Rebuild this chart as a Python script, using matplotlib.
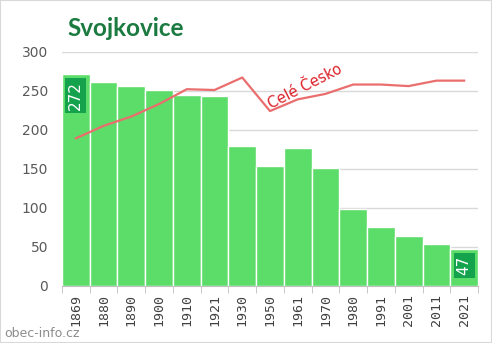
import matplotlib.pyplot as plt
from matplotlib.patches import Rectangle
import numpy as np

years = ['1869', '1880', '1890', '1900', '1910', '1921', '1930', '1950',
         '1961', '1970', '1980', '1991', '2001', '2011', '2021']
population = [272, 261, 256, 251, 245, 243, 179, 154, 177, 151, 98, 75, 64, 54, 47]
# whole-country trend, rescaled to the village axis
czechia = [189, 205, 217, 233, 252, 251, 267, 224, 239, 246, 258, 258, 256, 263, 263]

BAR = '#5cdc69'
BOX = '#14a34c'
LINE = '#ea6e6e'

fig = plt.figure(figsize=(4.92, 3.43), dpi=100)
ax = fig.add_axes([0.126, 0.167, 0.8455, 0.682])

x = np.arange(len(years))
ax.bar(x, population, width=1.0, color=BAR, edgecolor='white', linewidth=1, zorder=2)
ax.plot(x, czechia, color=LINE, linewidth=1.6, zorder=3)

# boxed value labels on first and last bar
for i in (0, len(years) - 1):
    ax.text(x[i], population[i] - 9, str(population[i]), rotation=90, ha='center', va='top',
            color='white', fontsize=11, zorder=4,
            bbox=dict(boxstyle='square,pad=0.2', facecolor=BOX, edgecolor='none'))

ax.text(8.25, 255, 'Celé Česko', rotation=27, ha='center', va='center',
        color='#dc2229', fontsize=10.5, zorder=4)

ax.set_xlim(-0.5, len(years) - 0.5)
ax.set_ylim(0, 300)
ax.set_yticks(range(0, 301, 50))
ax.yaxis.grid(True, color='#d9d9d9', linewidth=1)
ax.set_axisbelow(True)
ax.tick_params(axis='y', length=0, labelsize=10, labelcolor='#595959', pad=10)

ax.set_xticks(x)
ax.set_xticklabels(years, rotation=90, family='DejaVu Sans Mono', fontsize=9.5, color='#404040')
ax.set_xticks(np.arange(-0.5, len(years), 1.0), minor=True)
ax.tick_params(axis='x', which='major', length=0, pad=6)
ax.tick_params(axis='x', which='minor', length=5, color='#bfbfbf')

for side in ('top', 'right', 'left'):
    ax.spines[side].set_visible(False)
ax.spines['bottom'].set_color('#bfbfbf')

fig.text(0.137, 0.918, 'Svojkovice', fontsize=17.5, fontweight='bold', color='#1b7a3f',
         family='Lato', va='center')
fig.text(0.008, 0.028, 'obec-info.cz', fontsize=9, color='#8c8c8c', va='center')
fig.patches.append(Rectangle((0, 0), 1, 1, transform=fig.transFigure, fill=False,
                             edgecolor='#d9d9d9', linewidth=1.5))

fig.savefig('out.png', dpi=100)
